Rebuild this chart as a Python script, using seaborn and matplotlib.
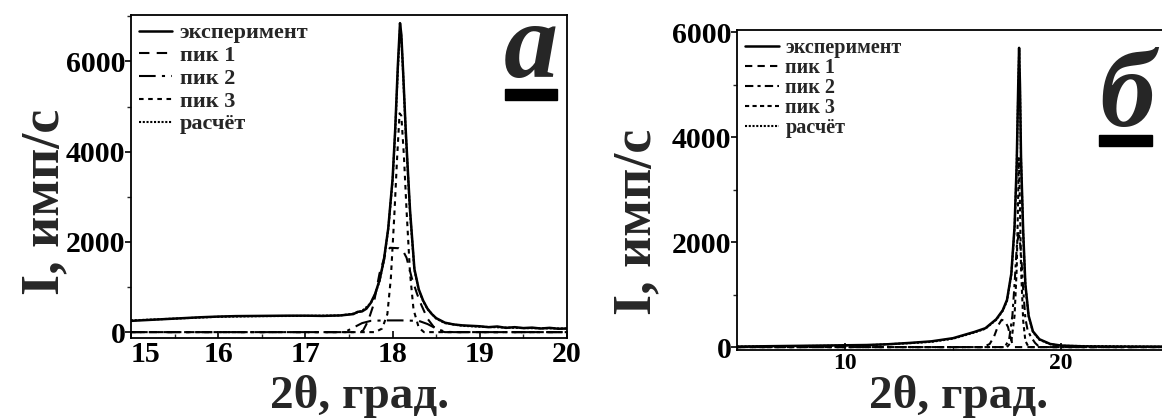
import numpy as np
import pandas as pd
import matplotlib
matplotlib.use("Agg")
import matplotlib.pyplot as plt
import seaborn as sns
from matplotlib.patches import Rectangle
from matplotlib.ticker import MultipleLocator

# ---------------- Panel а (15-20 deg) ----------------
a_exp_x = [15.0, 15.2, 15.4, 15.6, 15.8, 16.0, 16.2, 16.5, 16.8, 17.0, 17.2, 17.4, 17.55, 17.6,
           17.65, 17.7, 17.75, 17.8, 17.85, 17.9, 17.95, 18.0, 18.03, 18.06, 18.085, 18.1, 18.12,
           18.15, 18.18, 18.2, 18.25, 18.3, 18.35, 18.4, 18.45, 18.5, 18.6, 18.7, 18.8, 18.9, 19.0,
           19.1, 19.2, 19.3, 19.4, 19.5, 19.6, 19.7, 19.8, 19.9, 20.0]
a_exp_y = [250, 270, 290, 310, 330, 345, 355, 360, 365, 365, 360, 370, 400, 450,
           460, 520, 650, 850, 1150, 1600, 2300, 3400, 4500, 5900, 6850, 6600, 5800,
           4500, 3400, 2700, 1400, 950, 700, 520, 400, 310, 210, 170, 150, 140, 130,
           110, 125, 95, 110, 90, 100, 80, 95, 75, 80]

a_calc_x = [15.0, 15.5, 16.0, 16.5, 17.0, 17.4, 17.55, 17.65, 17.75, 17.8, 17.85, 17.9, 17.95,
            18.0, 18.03, 18.06, 18.085, 18.1, 18.12, 18.15, 18.18, 18.2, 18.25, 18.3, 18.35,
            18.4, 18.5, 18.6, 18.8, 19.0, 19.5, 20.0]
a_calc_y = [260, 300, 340, 355, 360, 370, 410, 470, 640, 840, 1130, 1580, 2280,
            3350, 4450, 5800, 6750, 6550, 5750, 4450, 3350, 2650, 1380, 930, 690,
            510, 300, 200, 140, 120, 90, 80]

a_p1_x = [15.0, 17.6, 17.66, 17.72, 17.78, 17.85, 17.92, 17.97, 18.07, 18.12, 18.16, 18.22,
          18.28, 18.33, 18.4, 18.47, 18.55, 18.6, 20.0]
a_p1_y = [0, 0, 30, 250, 600, 1300, 1750, 1870, 1860, 1800, 1650, 1200,
          850, 600, 300, 120, 20, 0, 0]

a_p2_x = [15.0, 17.45, 17.55, 17.65, 17.75, 17.9, 18.1, 18.3, 18.4, 18.5, 18.6, 18.7, 20.0]
a_p2_y = [0, 0, 100, 200, 250, 260, 260, 250, 180, 80, 10, 0, 0]

a_p3_x = [15.0, 17.8, 17.88, 17.94, 17.98, 18.02, 18.05, 18.08, 18.1, 18.13, 18.16, 18.2,
          18.24, 18.3, 18.36, 20.0]
a_p3_y = [0, 0, 80, 400, 1200, 2600, 3800, 4850, 4800, 3900, 2700, 1300,
          500, 100, 0, 0]

a_xticks = [15, 16, 17, 18, 19, 20]

# ---------------- Panel б (5-25 deg) ----------------
b_exp_x = [5.0, 6.0, 7.0, 8.0, 9.0, 10.0, 11.0, 12.0, 13.0, 14.0, 15.0, 16.0, 16.5, 17.0,
           17.3, 17.5, 17.7, 17.85, 17.95, 18.02, 18.06, 18.1, 18.15, 18.25, 18.35, 18.5,
           18.7, 19.0, 19.5, 20.0, 21.0, 22.0, 23.0, 24.0, 25.0]
b_exp_y = [10, 15, 20, 25, 30, 35, 40, 55, 80, 110, 170, 290, 360, 530,
           700, 900, 1400, 2300, 3500, 5000, 5700, 5000, 3600, 2200, 1200, 600,
           300, 150, 60, 30, 15, 12, 10, 10, 10]

b_calc_x = [5.0, 8.0, 11.0, 13.0, 14.0, 15.0, 16.0, 16.5, 17.0, 17.3, 17.5, 17.7, 17.85,
            17.95, 18.02, 18.06, 18.1, 18.15, 18.25, 18.35, 18.5, 18.7, 19.0, 19.5, 20.0, 25.0]
b_calc_y = [10, 20, 35, 75, 100, 160, 280, 350, 520, 690, 880, 1380, 2250,
            3450, 4900, 5650, 4950, 3550, 2150, 1180, 590, 290, 140, 55, 25, 5]

b_p1_x = [5.0, 16.4, 16.7, 16.9, 17.1, 17.25, 17.4, 17.55, 17.65, 17.75, 17.85, 25.0]
b_p1_y = [0, 0, 60, 200, 420, 520, 500, 380, 200, 60, 0, 0]

b_p2_x = [5.0, 17.4, 17.6, 17.75, 17.85, 17.95, 18.05, 18.15, 18.25, 18.35, 18.45, 18.6,
          18.8, 19.0, 25.0]
b_p2_y = [0, 0, 150, 600, 1200, 1900, 2200, 1800, 1100, 550, 330, 200,
          80, 0, 0]

b_p3_x = [5.0, 17.5, 17.7, 17.85, 17.95, 18.0, 18.05, 18.1, 18.15, 18.25, 18.35, 18.5, 25.0]
b_p3_y = [0, 0, 100, 600, 1500, 2500, 3600, 2700, 1500, 500, 120, 0, 0]

labels = ["эксперимент", "пик 1", "пик 2", "пик 3", "расчёт"]

sns.set_style("ticks")
plt.rcParams['font.family'] = ['Liberation Serif', 'DejaVu Serif']
plt.rcParams['font.weight'] = 'bold'
plt.rcParams['axes.linewidth'] = 1.3

W, H = 1162, 419
fig = plt.figure(figsize=(W / 100, H / 100), dpi=100)
fig.patch.set_facecolor('white')

def px_axes(l, t, r, b):
    return fig.add_axes([l / W, 1 - b / H, (r - l) / W, (b - t) / H])

ax1 = px_axes(131, 15, 567, 338)
ax2 = px_axes(737, 30, 1169, 350)

styles_a = [
    dict(linestyle='-', linewidth=1.8),
    dict(linestyle=(0, (5, 3.5)), linewidth=1.5),
    dict(linestyle=(0, (8, 3, 1.5, 3)), linewidth=1.5),
    dict(linestyle=(0, (2.2, 2.2)), linewidth=1.5),
    dict(linestyle=(0, (1, 0.8)), linewidth=1.5),
]
styles_b = [
    dict(linestyle='-', linewidth=1.8),
    dict(linestyle=(0, (3.5, 2.5)), linewidth=1.5),
    dict(linestyle=(0, (4, 2, 1.5, 2)), linewidth=1.5),
    dict(linestyle=(0, (2, 1.6)), linewidth=1.5),
    dict(linestyle=(0, (1, 0.8)), linewidth=1.5),
]

def draw(ax, series, styles):
    for (xs, ys), lab, st in zip(series, labels, styles):
        sns.lineplot(x=xs, y=ys, ax=ax, color='black', label=lab,
                     sort=False, estimator=None, **st)

draw(ax1, [(a_exp_x, a_exp_y), (a_p1_x, a_p1_y), (a_p2_x, a_p2_y),
           (a_p3_x, a_p3_y), (a_calc_x, a_calc_y)], styles_a)
draw(ax2, [(b_exp_x, b_exp_y), (b_p1_x, b_p1_y), (b_p2_x, b_p2_y),
           (b_p3_x, b_p3_y), (b_calc_x, b_calc_y)], styles_b)

ax1.set_xlim(15, 20)
ax1.set_ylim(-130, 7030)
ax1.set_xticks(a_xticks)
ax1.xaxis.set_minor_locator(MultipleLocator(0.5))
ax1.yaxis.set_major_locator(MultipleLocator(2000))
ax1.yaxis.set_minor_locator(MultipleLocator(1000))

ax2.set_xlim(5, 25)
ax2.set_ylim(-55, 6040)
ax2.xaxis.set_major_locator(MultipleLocator(10))
ax2.xaxis.set_minor_locator(MultipleLocator(5))
ax2.yaxis.set_major_locator(MultipleLocator(2000))
ax2.yaxis.set_minor_locator(MultipleLocator(1000))

for ax in (ax1, ax2):
    ax.set_xlabel('')
    ax.set_ylabel('')
    for s in ax.spines.values():
        s.set_visible(True)
        s.set_color('black')
    ax.tick_params(axis='y', which='major', direction='out', length=4, width=1.2, pad=0,
                   labelsize=21.5, colors='black')
    ax.tick_params(axis='y', which='minor', direction='out', length=3, width=1.0)
    ax.tick_params(axis='x', which='major', direction='in', length=5, width=1.2, pad=2,
                   colors='black')
    ax.tick_params(axis='x', which='minor', direction='in', length=3, width=1.0)
    for lab in ax.get_xticklabels() + ax.get_yticklabels():
        lab.set_fontweight('bold')

ax1.tick_params(axis='x', labelsize=21.5)
ax2.tick_params(axis='x', labelsize=17)
# first x tick label sits to the right of its tick, clear of the "0"
ax1.xaxis.get_major_ticks()[0].label1.set_horizontalalignment('left')

leg1 = ax1.legend(loc='upper left', frameon=False, handlelength=1.5,
                  handletextpad=0.35, labelspacing=0.1, borderaxespad=0.2,
                  borderpad=0.15, prop={'weight': 'bold', 'size': 16})
leg2 = ax2.legend(loc='upper left', frameon=False, handlelength=1.7,
                  handletextpad=0.3, labelspacing=0.0, borderaxespad=0.3,
                  borderpad=0.1, prop={'weight': 'bold', 'size': 14.5})

# axis titles
fig.text(45 / W, 1 - 202 / H, 'I, имп/с', rotation=90, ha='center', va='center',
         fontsize=39, fontweight='bold')
fig.text(637 / W, 1 - 222 / H, 'I, имп/с', rotation=90, ha='center', va='center',
         fontsize=39, fontweight='bold')
fig.text(360 / W, 1 - 408 / H, '2θ, град.', ha='center', va='baseline',
         fontsize=34, fontweight='bold')
fig.text(959 / W, 1 - 408 / H, '2θ, град.', ha='center', va='baseline',
         fontsize=34, fontweight='bold')

# panel letters with underline bars
fig.text(531 / W, 1 - 77 / H, 'а', ha='center', va='baseline', fontsize=78,
         fontweight='bold', style='italic')
fig.patches.append(Rectangle((505 / W, 1 - 100 / H), 52 / W, 11 / H,
                             transform=fig.transFigure, color='black'))
fig.text(1127 / W, 1 - 126 / H, 'б', ha='center', va='baseline', fontsize=80,
         fontweight='bold', style='italic')
fig.patches.append(Rectangle((1099 / W, 1 - 146 / H), 53 / W, 11 / H,
                             transform=fig.transFigure, color='black'))

fig.savefig('out.png', dpi=100, facecolor='white')
